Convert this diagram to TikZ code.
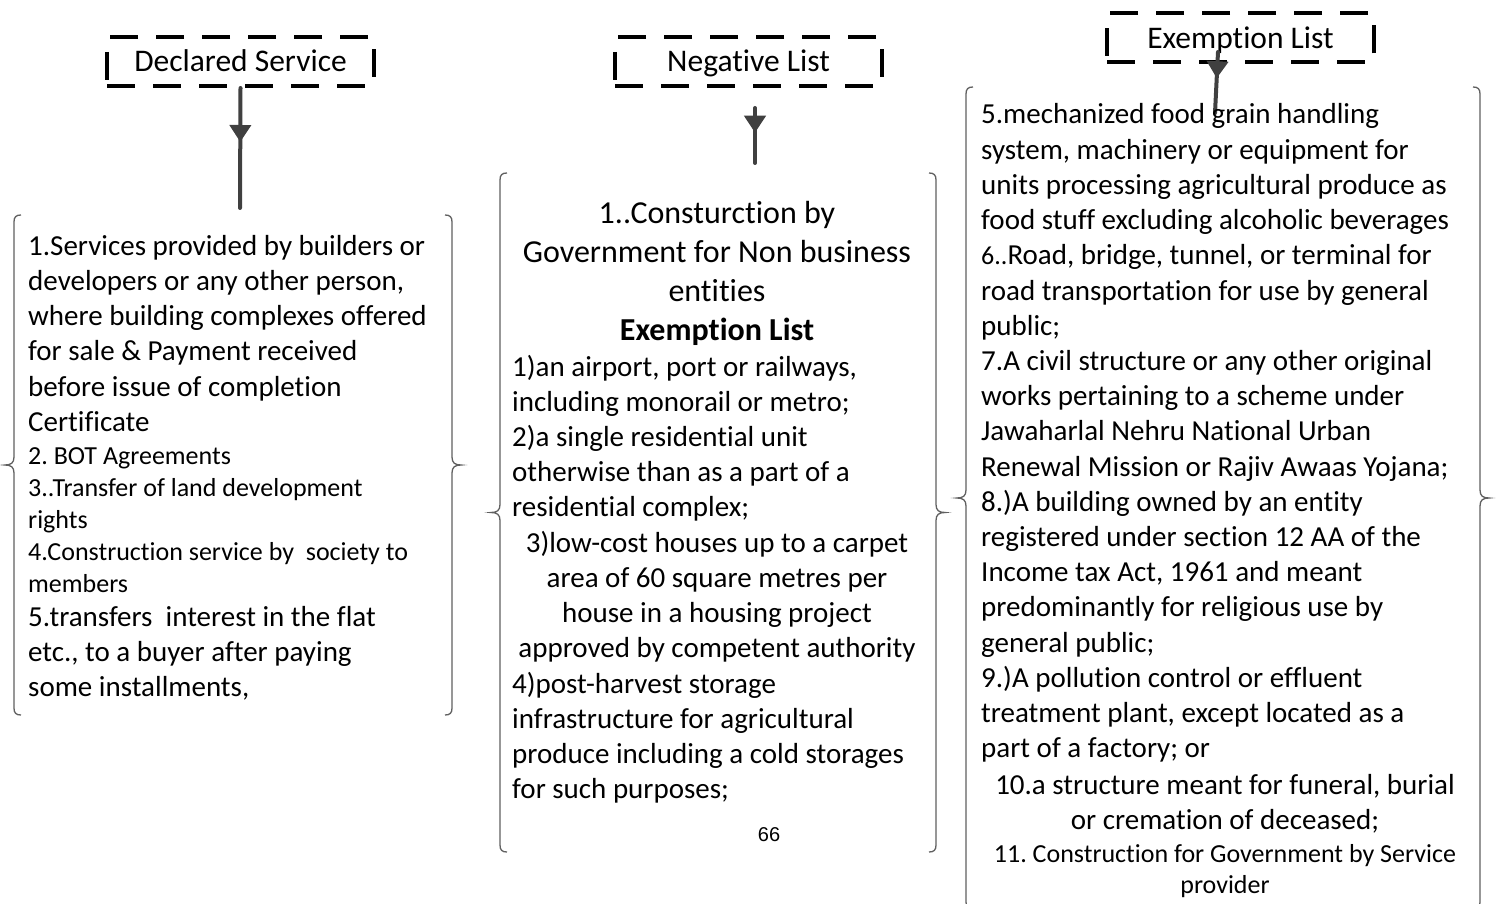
\documentclass[tikz,border=0pt]{standalone}
\usepackage{fontspec}
\setmainfont{Carlito}[Ligatures={NoCommon,NoRequired,NoContextual},RawFeature={-liga;-clig;-dlig;-rlig;-calt}]
\newfontfamily\arialf{Liberation Sans}
\usetikzlibrary{arrows.meta,decorations.markings}
\definecolor{arrowgray}{HTML}{404040}
\definecolor{bracegray}{HTML}{606060}
\newcommand\fbig{\fontsize{29}{35}\selectfont}
\newcommand\fsmall{\fontsize{26}{32}\selectfont}
\newcommand\fhead{\fontsize{32}{39}\selectfont}
\newcommand\mybraces[4]{%
  \pgfmathsetmacro\mm{(#3+#4)/2}%
  \draw[bracestyle] ({#1+7},#3) .. controls ({#1+2},#3) and (#1,{#3+2}) .. (#1,{#3+7})
    -- (#1,{\mm-8}) .. controls (#1,{\mm-2}) and ({#1-3},\mm) .. ({#1-9},\mm)
    .. controls ({#1-3},\mm) and (#1,{\mm+2}) .. (#1,{\mm+8})
    -- (#1,{#4-7}) .. controls (#1,{#4-2}) and ({#1+2},#4) .. ({#1+7},#4);
  \draw[bracestyle] ({#2-7},#3) .. controls ({#2-2},#3) and (#2,{#3+2}) .. (#2,{#3+7})
    -- (#2,{\mm-8}) .. controls (#2,{\mm-2}) and ({#2+3},\mm) .. ({#2+9},\mm)
    .. controls ({#2+3},\mm) and (#2,{\mm+2}) .. (#2,{\mm+8})
    -- (#2,{#4-7}) .. controls (#2,{#4-2}) and ({#2-2},#4) .. ({#2-7},#4);
}
\begin{document}
\frenchspacing
\begin{tikzpicture}[x=1pt,y=-1pt,
  bracestyle/.style={draw=bracegray, line width=1.3pt},
  bt/.style={anchor=base west, inner sep=0pt, font=\fbig},
  bc/.style={anchor=base, inner sep=0pt, font=\fbig},
  st/.style={anchor=base west, inner sep=0pt, font=\fsmall},
  sc/.style={anchor=base, inner sep=0pt, font=\fsmall},
  hc/.style={anchor=base, inner sep=0pt, font=\fhead},
  dbox/.style={draw=black, line width=4pt, dash pattern=on 28pt off 18pt,
    minimum width=267pt, minimum height=49pt, inner sep=0pt,
    text height=27pt, text depth=6pt,
    font=\fontsize{31.5}{38}\selectfont},
  conn/.style={draw=arrowgray, color=arrowgray, line width=4pt, line cap=round,
    postaction=decorate,
    decoration={markings, mark=at position #1 with {\arrow{Triangle[width=21pt,length=17pt]}}}}
]
\clip (0,0) rectangle (1496,904);
\fill[white] (0,0) rectangle (1496,904);

% dashed header boxes
\node[dbox] (ds) at (240.5,61.5) {Declared Service};
\node[dbox] (nl) at (748.5,61.5) {Negative List};
\node[dbox] (el) at (1240.5,38) {Exemption List};

% braces
\mybraces{14}{452}{215}{715}
\mybraces{500}{936}{173}{852}
\mybraces{966}{1480}{87}{909}

% connectors
\coordinate (dsE) at (240,208);
\coordinate (nlA) at (755,108);
\coordinate (nlE) at (755,163);
\coordinate (elA) at (1218,52);
\coordinate (elE) at (1215,113);
\draw[conn=0.45] (ds.south) -- (dsE);
\draw[conn=0.45] (nlA) -- (nlE);
\draw[conn=0.43] (elA) -- (elE);

% box 1 text
\foreach \t [count=\i from 0] in {{1.Services provided by builders or},{developers or any other person,},{where building complexes offered},{for sale \& Payment received},{before issue of completion},{Certificate}}
  \node[bt] (da\i) at (28,{255+35.3*\i}) {\t};
\foreach \t [count=\i from 0] in {{2. BOT Agreements},{3..Transfer of land development},{rights},{4.Construction service by\ \ society to},{members}}
  \node[st] (db\i) at (28,{464+32*\i}) {\t};
\foreach \t [count=\i from 0] in {{5.transfers\ \ interest in the flat},{etc., to a buyer after paying},{some installments,}}
  \node[bt] (dc\i) at (28,{626+35.3*\i}) {\t};

% box 2 text
\foreach \t [count=\i from 0] in {{1..Consturction by},{Government for Non business},{entities}}
  \node[hc] (na\i) at (717,{223+39*\i}) {\t};
\node[hc, font=\fhead\bfseries] (nb) at (717,340) {Exemption List};
\foreach \t [count=\i from 0] in {{1)an airport, port or railways,},{including monorail or metro;},{2)a single residential unit},{otherwise than as a part of a},{residential complex;}}
  \node[bt] (nc\i) at (512,{376+35.2*\i}) {\t};
\foreach \t [count=\i from 0] in {{3)low-cost houses up to a carpet},{area of 60 square metres per},{house in a housing project},{approved by competent authority}}
  \node[bc] (nd\i) at (717,{552+35.2*\i}) {\t};
\foreach \t [count=\i from 0] in {{4)post-harvest storage},{infrastructure for agricultural},{produce including a cold storages},{for such purposes;}}
  \node[bt] (ne\i) at (512,{693+35.2*\i}) {\t};
\node[inner sep=0pt, font=\arialf\fontsize{20}{24}\selectfont] (pg) at (769,835) {66};

% box 3 text
\foreach \t [count=\i from 0] in {{5.mechanized food grain handling},{system, machinery or equipment for},{units processing agricultural produce as},{food stuff excluding alcoholic beverages},{{\fsmall 6..}Road, bridge, tunnel, or terminal for},{road transportation for use by general},{public;},{7.A civil structure or any other original},{works pertaining to a scheme under},{Jawaharlal Nehru National Urban},{Renewal Mission or Rajiv Awaas Yojana;},{8.)A building owned by an entity},{registered under section 12 AA of the},{Income tax Act, 1961 and meant},{predominantly for religious use by},{general public;},{9.)A pollution control or effluent},{treatment plant, except located as a},{part of a factory; or}}
  \node[bt] (ea\i) at (981,{124+35.2*\i}) {\t};
\node[bc] (eb0) at (1225,794) {10.a structure meant for funeral, burial};
\node[bc] (eb1) at (1225,829) {or cremation of deceased;};
\node[sc] (ec0) at (1225,862) {11. Construction for Government by Service};
\node[sc] (ec1) at (1225,893) {provider};
\end{tikzpicture}
\end{document}
